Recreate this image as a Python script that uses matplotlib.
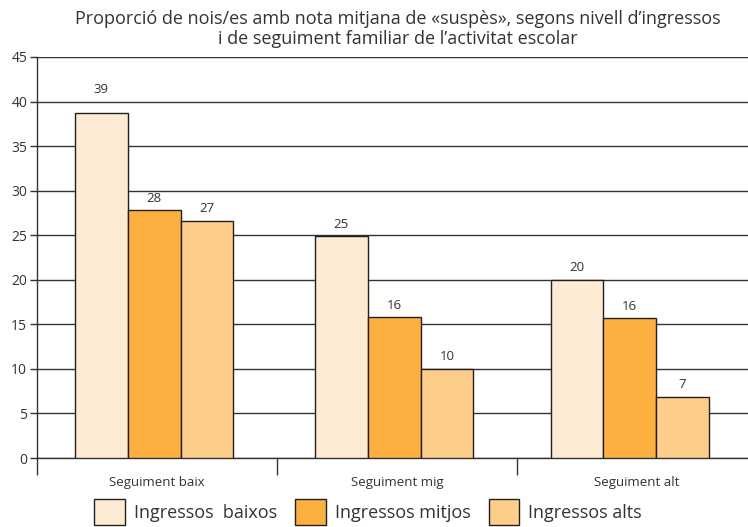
import matplotlib.pyplot as plt
import numpy as np

plt.rcParams['font.family'] = ['Open Sans', 'DejaVu Sans']

categories = ['Seguiment baix', 'Seguiment mig', 'Seguiment alt']
series_names = ['Ingressos  baixos', 'Ingressos mitjos', 'Ingressos alts']
baixos = [38.7, 24.9, 20.0]
mitjos = [27.8, 15.8, 15.7]
alts = [26.6, 10.0, 6.9]
labels_baixos = ['39', '25', '20']
labels_mitjos = ['28', '16', '16']
labels_alts = ['27', '10', '7']
colors = ['#FDEBD3', '#FBB040', '#FDCD8A']
edge = '#231F20'

fig = plt.figure(figsize=(7.48, 5.27), dpi=100)
ax = fig.add_axes([37 / 748, 69 / 527, 720 / 748, 401 / 527])

x = np.arange(len(categories)) - np.array([0.012, 0.012, 0.03])
w = 0.22
series = [baixos, mitjos, alts]
labels = [labels_baixos, labels_mitjos, labels_alts]
for i, (vals, labs) in enumerate(zip(series, labels)):
    pos = x + (i - 1) * w
    ax.bar(pos, vals, w, color=colors[i], edgecolor=edge, linewidth=1.0,
           label=series_names[i], zorder=3)
    for p, v, t in zip(pos, vals, labs):
        off = 12 if float(v) > 38 else 4   # lift the 39 label above the 40 gridline
        ax.annotate(t, (p, v), xytext=(0, off), textcoords='offset points',
                    ha='center', va='bottom', fontsize=9.5, color='#333333')

ax.set_ylim(0, 45)
ax.set_xlim(-0.5, 2.5)
ax.set_yticks(range(0, 46, 5))
ax.yaxis.grid(True, color='#333333', linewidth=1.0, zorder=0)
ax.set_axisbelow(True)
ax.tick_params(axis='y', length=5, width=1, color='#333333', labelsize=10,
               labelcolor='#333333', pad=2)

ax.set_xticks(range(len(categories)))
ax.set_xticklabels(categories, fontsize=9.5, color='#333333')
ax.tick_params(axis='x', which='major', length=0, pad=13)
ax.set_xticks([-0.5, 0.5, 1.5], minor=True)
ax.tick_params(axis='x', which='minor', length=12, width=1, color='#333333')

for s in ['top', 'right']:
    ax.spines[s].set_visible(False)
for s in ['left', 'bottom']:
    ax.spines[s].set_color('#333333')
    ax.spines[s].set_linewidth(1.0)

fig.text(398 / 748, 1 - 29 / 527,
         'Proporció de nois/es amb nota mitjana de «suspès», segons nivell d’ingressos\n'
         'i de seguiment familiar de l’activitat escolar',
         ha='center', va='center', fontsize=13, color='#333333', linespacing=1.15)

fig.legend(loc='center', bbox_to_anchor=(368 / 748, 1 - 512 / 527), ncol=3,
           frameon=False, fontsize=13, handlelength=1.7, handleheight=1.8,
           handletextpad=0.5, columnspacing=1.0, labelcolor='#333333')

plt.savefig('out.png', dpi=100)
